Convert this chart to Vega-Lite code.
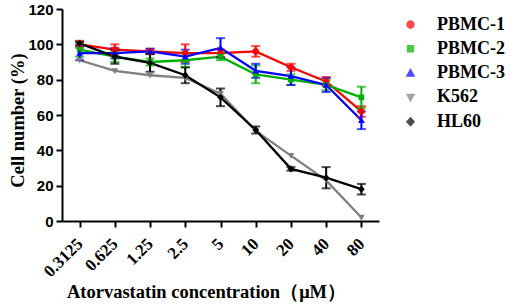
{
  "$schema": "https://vega.github.io/schema/vega-lite/v6.json",
  "autosize": {"type": "none"},
  "padding": {"left": 62, "top": 9, "right": 131, "bottom": 87},
  "width": 317,
  "height": 212,
  "background": "white",
  "config": {
    "view": {"stroke": null},
    "axis": {"grid": false, "domainColor": "black", "domainWidth": 2, "tickColor": "black", "tickWidth": 2, "tickSize": 6, "labelColor": "black", "titleColor": "black"}
  },
  "data": {"values": [
    {"conc": 0.3125, "series": "PBMC-1", "mean": 100, "sd": 2},
    {"conc": 0.625, "series": "PBMC-1", "mean": 97, "sd": 3},
    {"conc": 1.25, "series": "PBMC-1", "mean": 96, "sd": 1.5},
    {"conc": 2.5, "series": "PBMC-1", "mean": 95, "sd": 5},
    {"conc": 5, "series": "PBMC-1", "mean": 95, "sd": 2},
    {"conc": 10, "series": "PBMC-1", "mean": 96, "sd": 3},
    {"conc": 20, "series": "PBMC-1", "mean": 87, "sd": 2},
    {"conc": 40, "series": "PBMC-1", "mean": 79, "sd": 2.5},
    {"conc": 80, "series": "PBMC-1", "mean": 62, "sd": 3},
    {"conc": 0.3125, "series": "PBMC-2", "mean": 97, "sd": 4},
    {"conc": 0.625, "series": "PBMC-2", "mean": 93, "sd": 3},
    {"conc": 1.25, "series": "PBMC-2", "mean": 90, "sd": 2},
    {"conc": 2.5, "series": "PBMC-2", "mean": 91, "sd": 4},
    {"conc": 5, "series": "PBMC-2", "mean": 93, "sd": 2},
    {"conc": 10, "series": "PBMC-2", "mean": 83, "sd": 5},
    {"conc": 20, "series": "PBMC-2", "mean": 80, "sd": 3},
    {"conc": 40, "series": "PBMC-2", "mean": 77, "sd": 3},
    {"conc": 80, "series": "PBMC-2", "mean": 70, "sd": 6},
    {"conc": 0.3125, "series": "PBMC-3", "mean": 95, "sd": 4},
    {"conc": 0.625, "series": "PBMC-3", "mean": 95, "sd": 3},
    {"conc": 1.25, "series": "PBMC-3", "mean": 96, "sd": 1.5},
    {"conc": 2.5, "series": "PBMC-3", "mean": 93, "sd": 4},
    {"conc": 5, "series": "PBMC-3", "mean": 98, "sd": 5.5},
    {"conc": 10, "series": "PBMC-3", "mean": 85, "sd": 4},
    {"conc": 20, "series": "PBMC-3", "mean": 82, "sd": 5},
    {"conc": 40, "series": "PBMC-3", "mean": 77, "sd": 4},
    {"conc": 80, "series": "PBMC-3", "mean": 57, "sd": 5},
    {"conc": 0.3125, "series": "K562", "mean": 91, "sd": 0},
    {"conc": 0.625, "series": "K562", "mean": 85, "sd": 0},
    {"conc": 1.25, "series": "K562", "mean": 82.5, "sd": 0},
    {"conc": 2.5, "series": "K562", "mean": 81, "sd": 0},
    {"conc": 5, "series": "K562", "mean": 72, "sd": 0},
    {"conc": 10, "series": "K562", "mean": 51, "sd": 0},
    {"conc": 20, "series": "K562", "mean": 37, "sd": 0},
    {"conc": 40, "series": "K562", "mean": 23, "sd": 0},
    {"conc": 80, "series": "K562", "mean": 2, "sd": 0},
    {"conc": 0.3125, "series": "HL60", "mean": 100.5, "sd": 1},
    {"conc": 0.625, "series": "HL60", "mean": 93, "sd": 4},
    {"conc": 1.25, "series": "HL60", "mean": 89.5, "sd": 5},
    {"conc": 2.5, "series": "HL60", "mean": 82.5, "sd": 4.5},
    {"conc": 5, "series": "HL60", "mean": 70, "sd": 5},
    {"conc": 10, "series": "HL60", "mean": 51.5, "sd": 2},
    {"conc": 20, "series": "HL60", "mean": 29.5, "sd": 1},
    {"conc": 40, "series": "HL60", "mean": 24.5, "sd": 6},
    {"conc": 80, "series": "HL60", "mean": 18, "sd": 3}
  ]},
  "encoding": {
    "x": {
      "field": "conc", "type": "ordinal", "sort": null,
      "scale": {"type": "point", "padding": 0.5},
      "axis": {
        "title": "Atorvastatin concentration（μM）",
        "labelAngle": -45, "labelAlign": "right", "labelBaseline": "middle", "labelPadding": 14,
        "labelFont": "Liberation Serif", "labelFontWeight": "bold", "labelFontSize": 17,
        "titleFont": "Liberation Serif", "titleFontWeight": "bold", "titleFontSize": 18.5,
        "titleX": 144, "titleY": 76, "titleBaseline": "alphabetic", "titleAnchor": "middle"
      }
    },
    "y": {
      "field": "mean", "type": "quantitative",
      "scale": {"domain": [0, 120], "nice": false, "zero": true},
      "axis": {
        "title": "Cell number (%)", "values": [0, 20, 40, 60, 80, 100, 120],
        "labelFont": "Liberation Sans", "labelFontWeight": "bold", "labelFontSize": 15, "labelPadding": 3,
        "titleFont": "Liberation Serif", "titleFontWeight": "bold", "titleFontSize": 18.5,
        "titleX": -45, "titleY": 111, "titleAnchor": "middle", "titleBaseline": "middle"
      }
    },
    "color": {
      "field": "series", "type": "nominal",
      "scale": {"domain": ["PBMC-1", "PBMC-2", "PBMC-3", "K562", "HL60"], "range": ["#FF0000", "#00B000", "#0000FF", "#808080", "#000000"]},
      "legend": {
        "title": null, "orient": "none", "legendX": 339.5, "legendY": 6.5,
        "padding": 0, "symbolSize": 49, "labelOffset": 17.5, "rowPadding": 6.3,
        "labelFont": "Liberation Serif", "labelFontWeight": "bold", "labelFontSize": 18, "labelColor": "black"
      }
    }
  },
  "layer": [
    {"mark": {"type": "line", "strokeWidth": 2.3}},
    {
      "transform": [{"filter": "datum.sd > 0"}],
      "mark": {"type": "errorbar", "ticks": true, "size": 9, "thickness": 2},
      "encoding": {"yError": {"field": "sd"}}
    },
    {
      "mark": {"type": "point", "filled": true, "opacity": 1, "size": 45},
      "encoding": {
        "shape": {
          "field": "series", "type": "nominal",
          "scale": {"domain": ["PBMC-1", "PBMC-2", "PBMC-3", "K562", "HL60"],
            "range": ["M1,0A1,1,0,1,1,-1,0A1,1,0,1,1,1,0Z", "M-0.85,-0.85H0.85V0.85H-0.85Z", "M0,-1L1,0.8H-1Z", "M0,1L1,-0.8H-1Z", "M0,-1.1L1,0L0,1.1L-1,0Z"]},
          "legend": {
            "title": null, "orient": "none", "legendX": 339.5, "legendY": 6.5,
            "padding": 0, "symbolSize": 49, "labelOffset": 17.5, "rowPadding": 6.3,
            "labelFont": "Liberation Serif", "labelFontWeight": "bold", "labelFontSize": 18, "labelColor": "black"
          }
        }
      }
    }
  ]
}
